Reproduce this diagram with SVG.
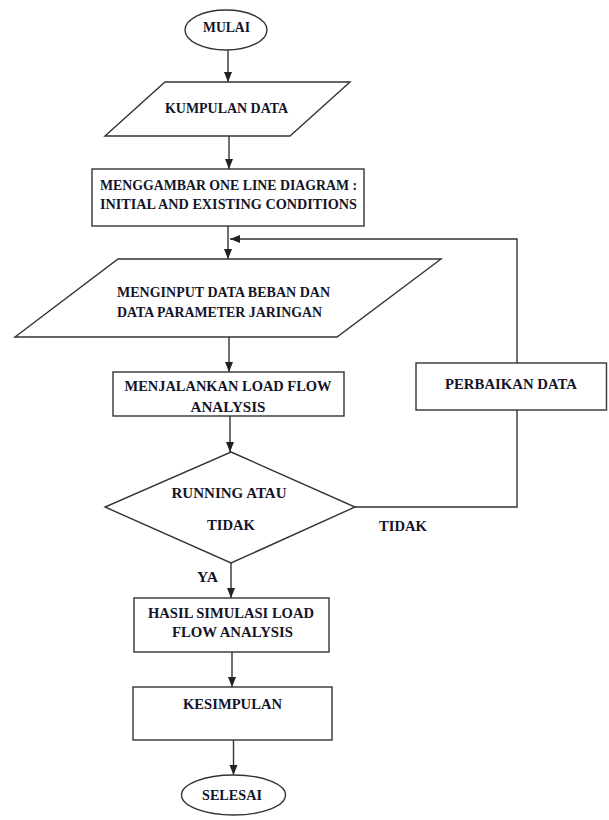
<svg xmlns="http://www.w3.org/2000/svg" width="609" height="820" viewBox="0 0 609 820">
<style>
.s{fill:#fff;stroke:#333;stroke-width:1.4}
.c{fill:none;stroke:#333;stroke-width:1.4}
.t{font-family:"Liberation Serif","Times New Roman",serif;font-weight:bold;font-size:15px;fill:#141428}
</style>
<defs>
<marker id="ah" markerUnits="userSpaceOnUse" markerWidth="10" markerHeight="10" viewBox="0 0 10 10" refX="10" refY="5" orient="auto">
<path d="M0,1 L10,5 L0,9 Z" fill="#222"/>
</marker>
</defs>
<rect width="609" height="820" fill="#fff"/>
<g id="connectors">
<line class="c" x1="228" y1="50" x2="228" y2="82" marker-end="url(#ah)"/>
<line class="c" x1="229" y1="136" x2="229" y2="169" marker-end="url(#ah)"/>
<line class="c" x1="228" y1="226" x2="228" y2="259" marker-end="url(#ah)"/>
<polyline class="c" points="517,363 517,239 230,239" marker-end="url(#ah)"/>
<line class="c" x1="229" y1="337" x2="229" y2="372" marker-end="url(#ah)"/>
<line class="c" x1="230" y1="416" x2="230" y2="452" marker-end="url(#ah)"/>
<polyline class="c" points="355,507 517,507 517,410"/>
<line class="c" x1="231" y1="563" x2="231" y2="598" marker-end="url(#ah)"/>
<line class="c" x1="232" y1="652" x2="232" y2="687" marker-end="url(#ah)"/>
<line class="c" x1="233.5" y1="740" x2="233.5" y2="775" marker-end="url(#ah)"/>
<text class="t" x="403" y="531" text-anchor="middle" textLength="48" lengthAdjust="spacingAndGlyphs">TIDAK</text>
<text class="t" x="207.5" y="582" text-anchor="middle" textLength="21" lengthAdjust="spacingAndGlyphs">YA</text>
</g>
<g id="mulai">
<ellipse class="s" cx="226" cy="30" rx="41" ry="20"/>
<text class="t" x="226.5" y="31.5" text-anchor="middle" textLength="47" lengthAdjust="spacingAndGlyphs">MULAI</text>
</g>
<g id="kumpulan-data">
<polygon class="s" points="165,82 350,82 290,136 105,136"/>
<text class="t" x="226.5" y="112.5" text-anchor="middle" textLength="123" lengthAdjust="spacingAndGlyphs">KUMPULAN DATA</text>
</g>
<g id="menggambar">
<rect class="s" x="92" y="169" width="272" height="57"/>
<text class="t" x="228.5" y="189.5" text-anchor="middle" textLength="257" lengthAdjust="spacingAndGlyphs">MENGGAMBAR ONE LINE DIAGRAM :</text>
<text class="t" x="228.5" y="208.5" text-anchor="middle" textLength="257" lengthAdjust="spacingAndGlyphs">INITIAL AND EXISTING CONDITIONS</text>
</g>
<g id="menginput">
<polygon class="s" points="118,259 441,259 337,337 15,337"/>
<text class="t" x="117" y="296.5" textLength="213" lengthAdjust="spacingAndGlyphs">MENGINPUT DATA BEBAN  DAN</text>
<text class="t" x="117" y="316.5" textLength="205" lengthAdjust="spacingAndGlyphs">DATA PARAMETER JARINGAN</text>
</g>
<g id="menjalankan">
<rect class="s" x="113" y="372" width="231" height="44"/>
<text class="t" x="228" y="390.5" text-anchor="middle" textLength="207" lengthAdjust="spacingAndGlyphs">MENJALANKAN LOAD FLOW</text>
<text class="t" x="228" y="411.5" text-anchor="middle" textLength="75" lengthAdjust="spacingAndGlyphs">ANALYSIS</text>
</g>
<g id="perbaikan">
<rect class="s" x="416" y="363" width="190.5" height="47"/>
<text class="t" x="511" y="388.5" text-anchor="middle" textLength="132" lengthAdjust="spacingAndGlyphs">PERBAIKAN DATA</text>
</g>
<g id="running">
<polygon class="s" points="231,452 355,507 231,563 105,507"/>
<text class="t" x="229" y="497.5" text-anchor="middle" textLength="115" lengthAdjust="spacingAndGlyphs">RUNNING ATAU</text>
<text class="t" x="231" y="529.5" text-anchor="middle" textLength="48" lengthAdjust="spacingAndGlyphs">TIDAK</text>
</g>
<g id="hasil">
<rect class="s" x="134" y="598" width="195" height="54"/>
<text class="t" x="231" y="617.5" text-anchor="middle" textLength="166" lengthAdjust="spacingAndGlyphs">HASIL SIMULASI LOAD</text>
<text class="t" x="232.5" y="636.5" text-anchor="middle" textLength="121" lengthAdjust="spacingAndGlyphs">FLOW ANALYSIS</text>
</g>
<g id="kesimpulan">
<rect class="s" x="133" y="687" width="199" height="53"/>
<text class="t" x="232.5" y="708.5" text-anchor="middle" textLength="99" lengthAdjust="spacingAndGlyphs">KESIMPULAN</text>
</g>
<g id="selesai">
<ellipse class="s" cx="233.5" cy="795" rx="52" ry="20"/>
<text class="t" x="232" y="799.5" text-anchor="middle" textLength="60" lengthAdjust="spacingAndGlyphs">SELESAI</text>
</g>
</svg>
